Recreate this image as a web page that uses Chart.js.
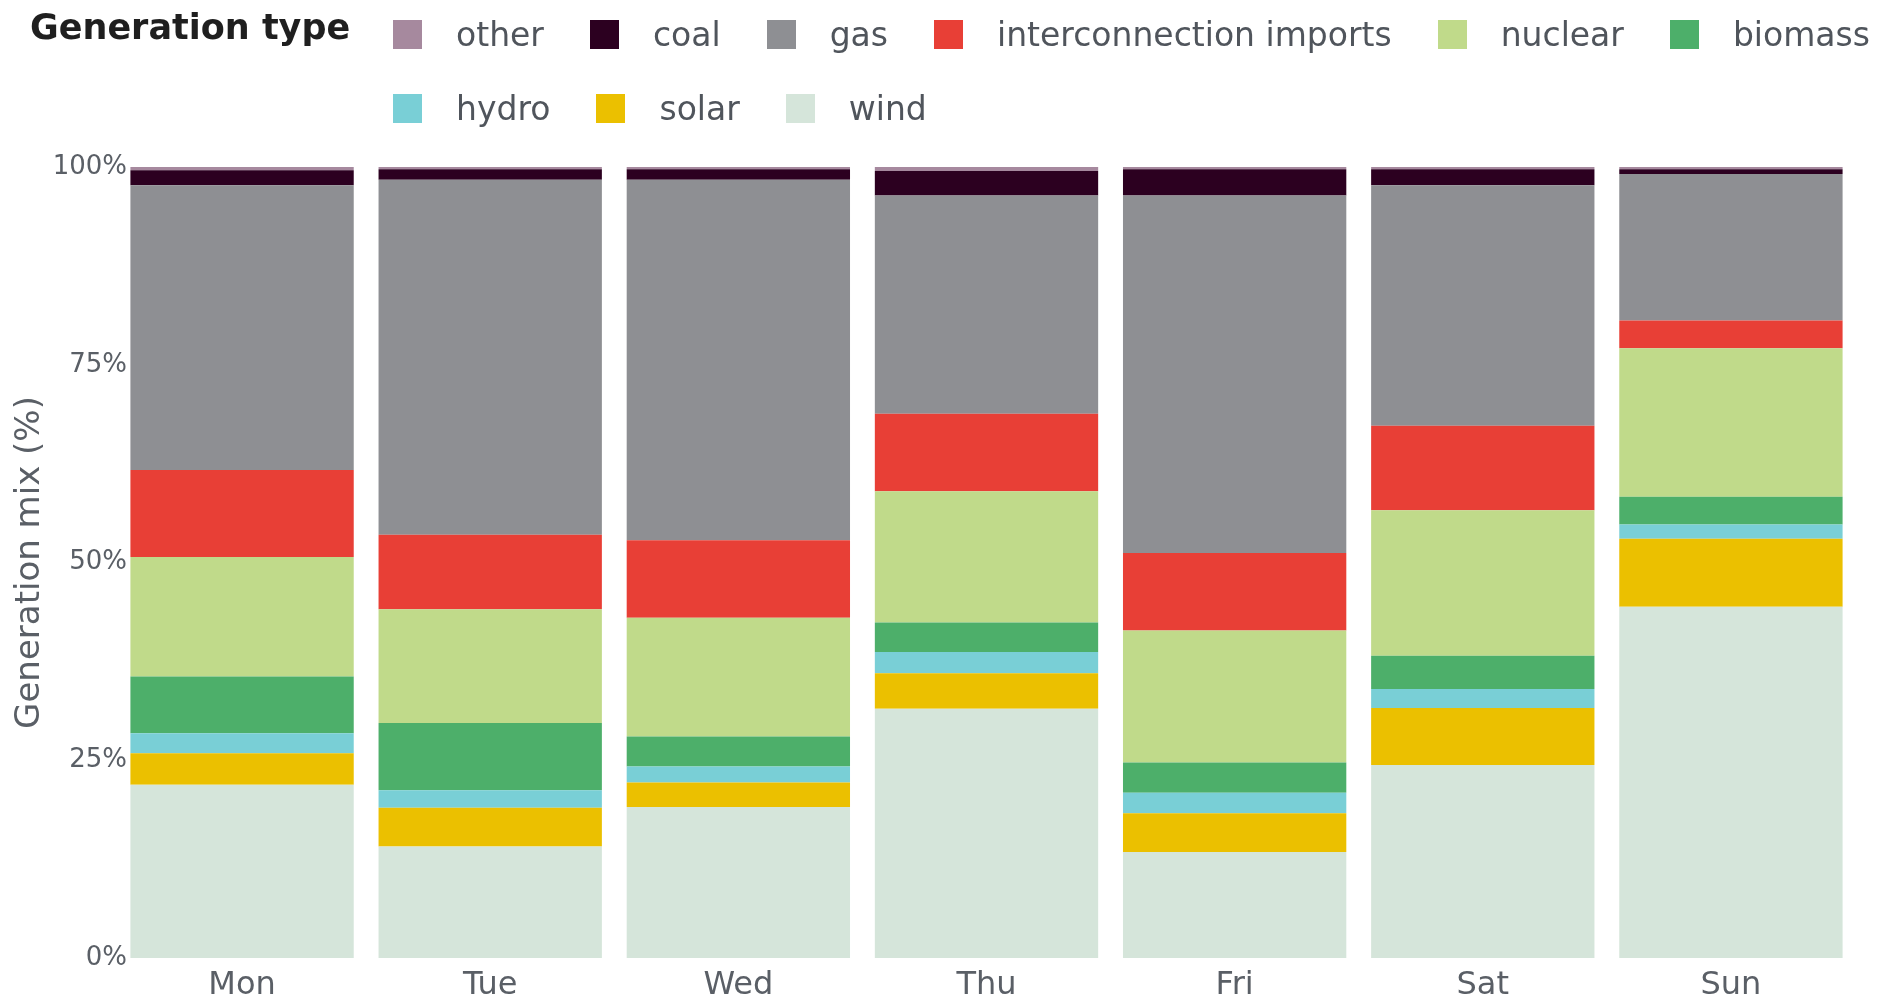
<!DOCTYPE html>
<html>
<head>
<meta charset="utf-8">
<script src="https://cdn.jsdelivr.net/npm/chart.js@4.4.1/dist/chart.umd.min.js"></script>
<style>
  html, body { margin: 0; padding: 0; background: #fff; overflow: hidden; }
  #wrap { position: absolute; left: 0; top: 0; width: 1890px; height: 999px; }
  #legendTitle {
    position: absolute; left: 30px; top: 7px; line-height: 58px;
    font: bold 35px "DejaVu Sans", sans-serif; color: #1f1f1f;
  }
  #legendItems {
    position: absolute; left: 393px; top: 5px; width: 1560px;
    display: flex; flex-wrap: wrap; row-gap: 16px;
    font: 33px "DejaVu Sans", sans-serif; color: #50555c;
  }
  .item { display: flex; align-items: center; height: 58px; margin-right: 46px; white-space: nowrap; }
  .swatch { width: 29px; height: 29px; margin-right: 34px; }
</style>
</head>
<body>
<div id="wrap">
  <canvas id="mixchart"></canvas>
  <div id="legendTitle">Generation type</div>
  <div id="legendItems"></div>
</div>
<script>
// days on the x axis
const days = ['Mon', 'Tue', 'Wed', 'Thu', 'Fri', 'Sat', 'Sun'];

// share of generation (%)
const wind    = [21.9, 14.1, 19.1, 31.5, 13.4, 24.4, 44.4];
const solar   = [4.0, 4.9, 3.1, 4.5, 4.9, 7.2, 8.6];
const hydro   = [2.5, 2.2, 2.0, 2.7, 2.6, 2.4, 1.8];
const biomass = [7.2, 8.5, 3.8, 3.7, 3.8, 4.2, 3.5];
const nuclear = [15.1, 14.4, 15.0, 16.6, 16.7, 18.4, 18.8];
const imports = [11.0, 9.4, 9.8, 9.8, 9.8, 10.7, 3.5];
const gas     = [36.0, 44.9, 45.6, 27.6, 45.2, 30.4, 18.5];
const coal    = [1.9, 1.3, 1.3, 3.1, 3.3, 2.0, 0.6];
const other   = [0.4, 0.3, 0.3, 0.5, 0.3, 0.3, 0.3];

const yTicks = [0, 25, 50, 75, 100];

// bottom of the stack first
const series = [
    { label: 'wind', data: wind, color: '#d5e5da' },
    { label: 'solar', data: solar, color: '#ebc000' },
    { label: 'hydro', data: hydro, color: '#79cfd6' },
    { label: 'biomass', data: biomass, color: '#4daf6a' },
    { label: 'nuclear', data: nuclear, color: '#c0da8a' },
    { label: 'interconnection imports', data: imports, color: '#e83f36' },
    { label: 'gas', data: gas, color: '#8e8f93' },
    { label: 'coal', data: coal, color: '#2c0020' },
    { label: 'other', data: other, color: '#a6899e' },
];

Chart.defaults.font.family = '"DejaVu Sans", sans-serif';
Chart.defaults.color = '#5a5f66';
Chart.defaults.plugins.legend.display = false;
Chart.defaults.plugins.tooltip.enabled = false;

let datasets = [];
for (let i = 0; i < series.length; i++) {
    datasets.push({
        label: series[i].label,
        data: series[i].data,
        backgroundColor: series[i].color,
        borderWidth: 0,
        barPercentage: 0.9,
        categoryPercentage: 1.0,
    });
}

// legend in the reverse order of the stack, like the original
const legendEl = document.getElementById('legendItems');
for (let i = series.length - 1; i >= 0; i--) {
    const item = document.createElement('div');
    item.className = 'item';
    const sw = document.createElement('span');
    sw.className = 'swatch';
    sw.style.background = series[i].color;
    const txt = document.createElement('span');
    txt.textContent = series[i].label;
    item.appendChild(sw);
    item.appendChild(txt);
    legendEl.appendChild(item);
}

// y tick labels sit slightly inside the plot area, so don't clip them to the axis box
const noLabelClip = {
    id: 'noLabelClip',
    beforeDraw(chart) {
        chart.scales.y._computeLabelArea = function() { return undefined; };
    }
};

const ctx = document.getElementById('mixchart');
new Chart(ctx, {
    type: 'bar',
    data: { labels: days, datasets: datasets },
    plugins: [noLabelClip],
    options: {
        responsive: true,
        maintainAspectRatio: false,
        animation: false,
        layout: {
            padding: { top: 167, left: 0, right: 35, bottom: 0 }
        },
        scales: {
            x: {
                stacked: true,
                grid: { display: false, drawTicks: false },
                border: { display: false },
                ticks: { font: { size: 32 }, padding: 8 },
                afterFit: function(scale) { scale.height = 41; }
            },
            y: {
                stacked: true,
                min: 0,
                max: 100,
                grid: { display: false, drawTicks: false },
                border: { display: false },
                afterBuildTicks: function(scale) {
                    scale.ticks = yTicks.map(v => ({ value: v }));
                },
                ticks: {
                    font: { size: 26 },
                    padding: -9,
                    callback: function(value) { return value + '%'; }
                },
                title: {
                    display: true,
                    text: 'Generation mix (%)',
                    font: { size: 34 },
                    padding: { top: 10, bottom: 0 }
                },
                afterFit: function(scale) { scale.width = 118; }
            }
        }
    }
});
</script>
</body>
</html>
